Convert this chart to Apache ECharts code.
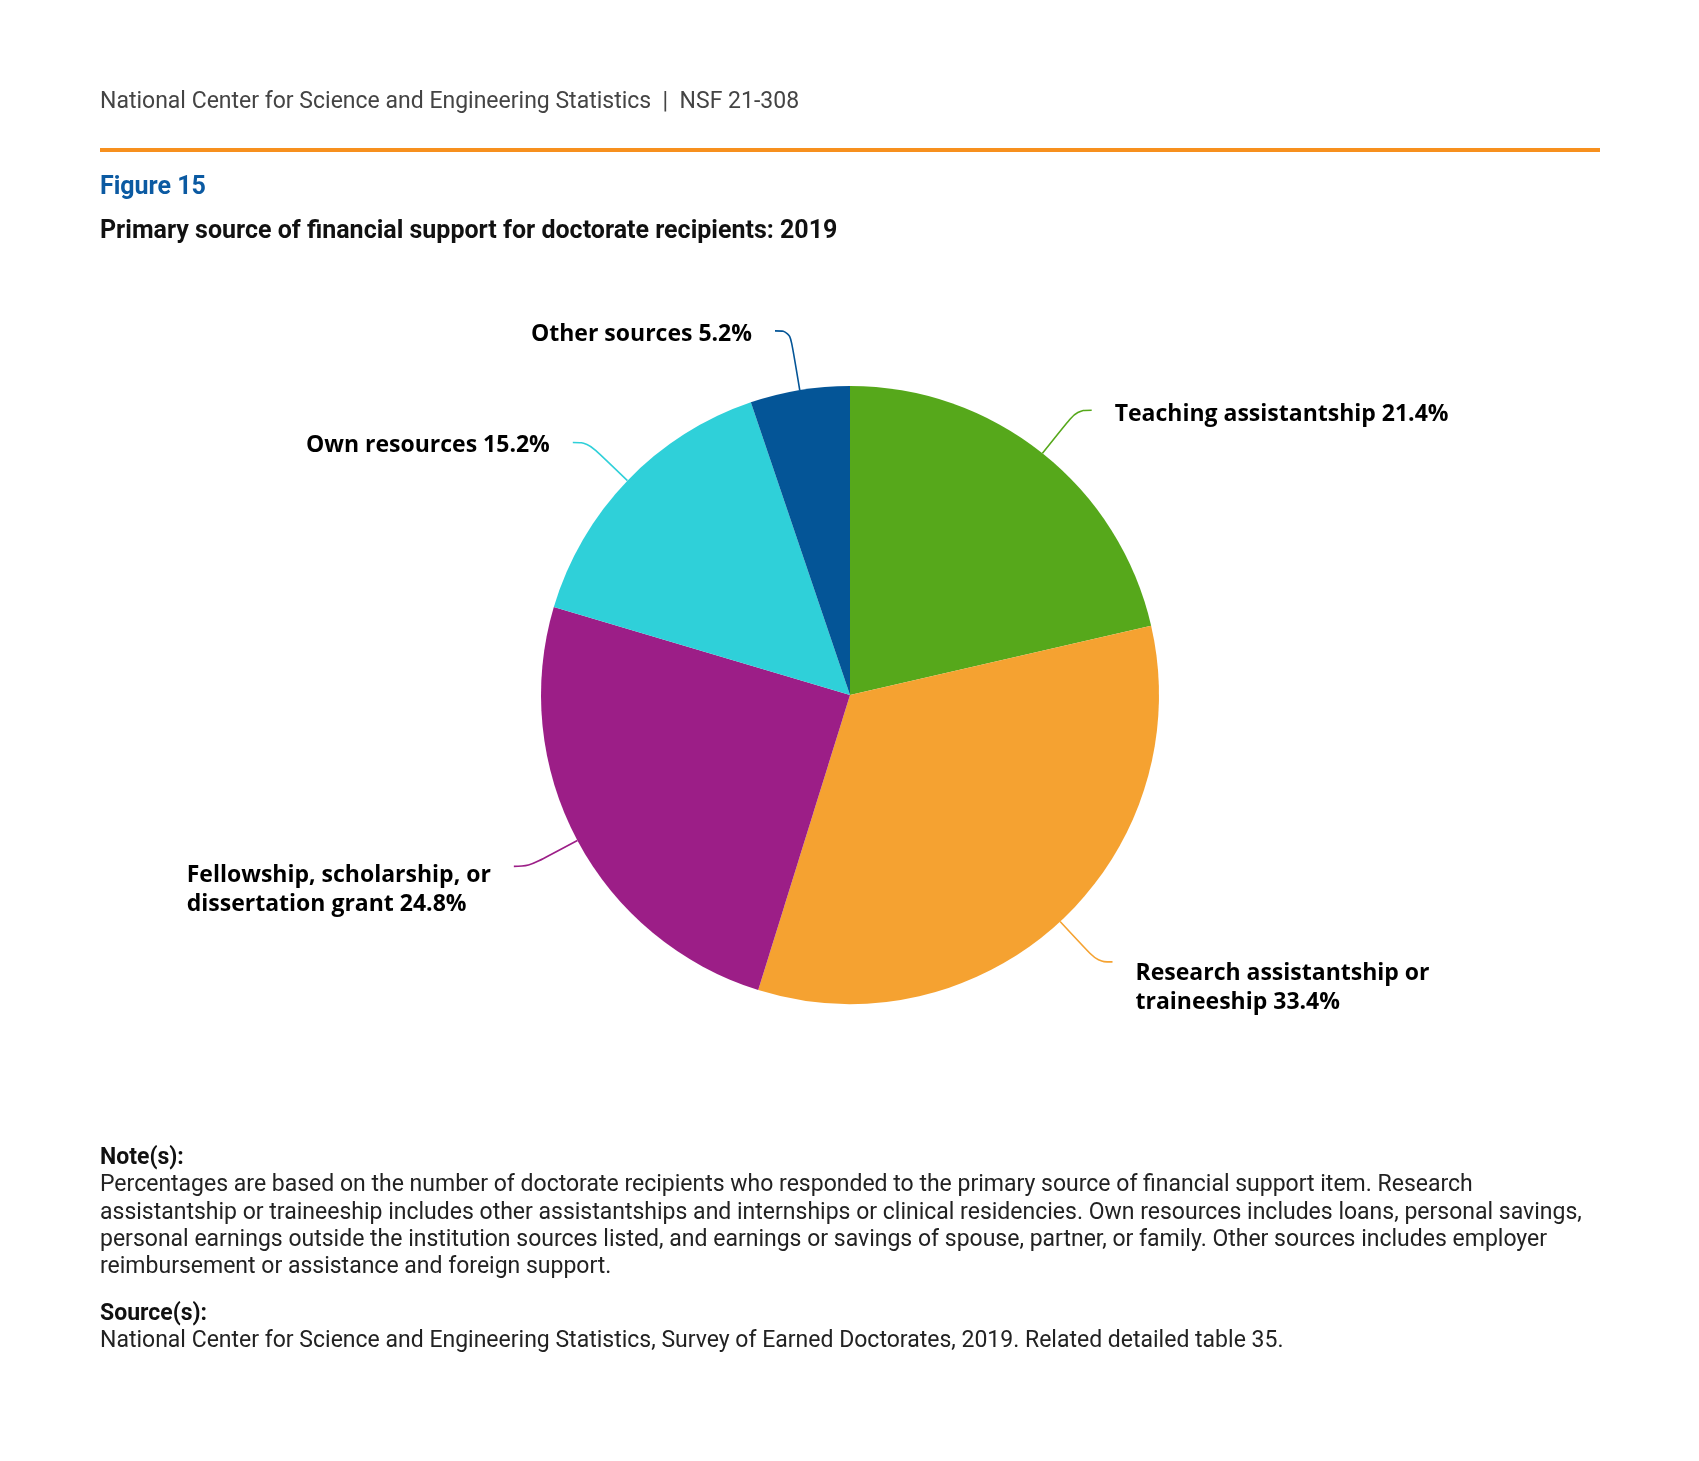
<!DOCTYPE html>
<html>
<head>
<meta charset="utf-8">
<script src="https://cdn.jsdelivr.net/npm/echarts@6/dist/echarts.min.js"></script>
<style>
html,body{margin:0;padding:0;background:#fff;}
#chart{width:1699px;height:1461px;}
</style>
</head>
<body>
<div id="chart"></div>
<script>
const categories = ['Teaching assistantship', 'Research assistantship or traineeship', 'Fellowship, scholarship, or dissertation grant', 'Own resources', 'Other sources'];
const shares = [21.4, 33.4, 24.8, 15.2, 5.2];
const colors = ['#56a81b', '#f5a231', '#9c1e87', '#2fd0d9', '#045597'];
const headerText = 'National Center for Science and Engineering Statistics  |  NSF 21-308';
const figureLabel = 'Figure 15';
const titleText = 'Primary source of financial support for doctorate recipients: 2019';
const noteLines = [
  'Percentages are based on the number of doctorate recipients who responded to the primary source of financial support item. Research',
  'assistantship or traineeship includes other assistantships and internships or clinical residencies. Own resources includes loans, personal savings,',
  'personal earnings outside the institution sources listed, and earnings or savings of spouse, partner, or family. Other sources includes employer',
  'reimbursement or assistance and foreign support.'
];
const sourceText = 'National Center for Science and Engineering Statistics, Survey of Earned Doctorates, 2019. Related detailed table 35.';

const chart = echarts.init(document.getElementById('chart'), null, {renderer: 'canvas'});

function wrapName(n) {
  return n.replace('assistantship or ', 'assistantship or\n').replace('scholarship, or ', 'scholarship, or\n');
}

const labelPad = [8, 52, 48, 6, 8];
const lineLen = [55, 55, 55, 55, 60];

const data = categories.map((c, i) => ({
  name: c,
  value: shares[i],
  itemStyle: {color: colors[i]},
  labelLine: {length: lineLen[i], lineStyle: {color: colors[i]}},
  label: {padding: [labelPad[i], 0, 0, 0]}
}));

const bodyFont = 'Roboto, "Noto Sans", sans-serif';

const option = {
  animation: false,
  backgroundColor: '#ffffff',
  graphic: [
    {type: 'text', left: 100, top: 91, style: {text: headerText, font: '23px ' + bodyFont, fill: '#444444'}},
    {type: 'rect', left: 100, top: 148, shape: {width: 1500, height: 4}, style: {fill: '#f7901e'}},
    {type: 'text', left: 100, top: 175, style: {text: figureLabel, font: 'bold 25px ' + bodyFont, fill: '#0b5aa2'}},
    {type: 'text', left: 100, top: 219, style: {text: titleText, font: 'bold 25px ' + bodyFont, fill: '#111111'}},
    {type: 'text', left: 100, top: 1147, style: {text: 'Note(s):', font: 'bold 23px ' + bodyFont, fill: '#111111'}},
    {type: 'text', left: 100, top: 1172, style: {text: noteLines.join('\n'), font: '23px ' + bodyFont, lineHeight: 27.3, fill: '#222222'}},
    {type: 'text', left: 100, top: 1303, style: {text: 'Source(s):', font: 'bold 23px ' + bodyFont, fill: '#111111'}},
    {type: 'text', left: 100, top: 1330, style: {text: sourceText, font: '23px ' + bodyFont, fill: '#222222'}}
  ],
  series: [{
    type: 'pie',
    center: [850, 695],
    radius: 309,
    startAngle: 90,
    clockwise: true,
    avoidLabelOverlap: false,
    data: data,
    itemStyle: {borderWidth: 0},
    label: {
      show: true,
      position: 'outside',
      formatter: p => wrapName(p.name + ' ' + p.value.toFixed(1) + '%').split('\n').map(s => '{t|' + s + '}').join('\n'),
      fontFamily: '"Open Sans", "Noto Sans", sans-serif',
      fontWeight: 'bold',
      fontSize: 23,
      lineHeight: 29,
      color: '#000000',
      distanceToLabelLine: 23,
      rich: {
        t: {
          align: 'left',
          fontFamily: '"Open Sans", "Noto Sans", sans-serif',
          fontWeight: 'bold',
          fontSize: 23,
          lineHeight: 29,
          color: '#000000'
        }
      }
    },
    labelLine: {
      show: true,
      length: 55,
      length2: 15,
      smooth: 0.4,
      lineStyle: {width: 1.6}
    },
    emphasis: {disabled: true}
  }]
};
chart.setOption(option);
</script>
</body>
</html>
